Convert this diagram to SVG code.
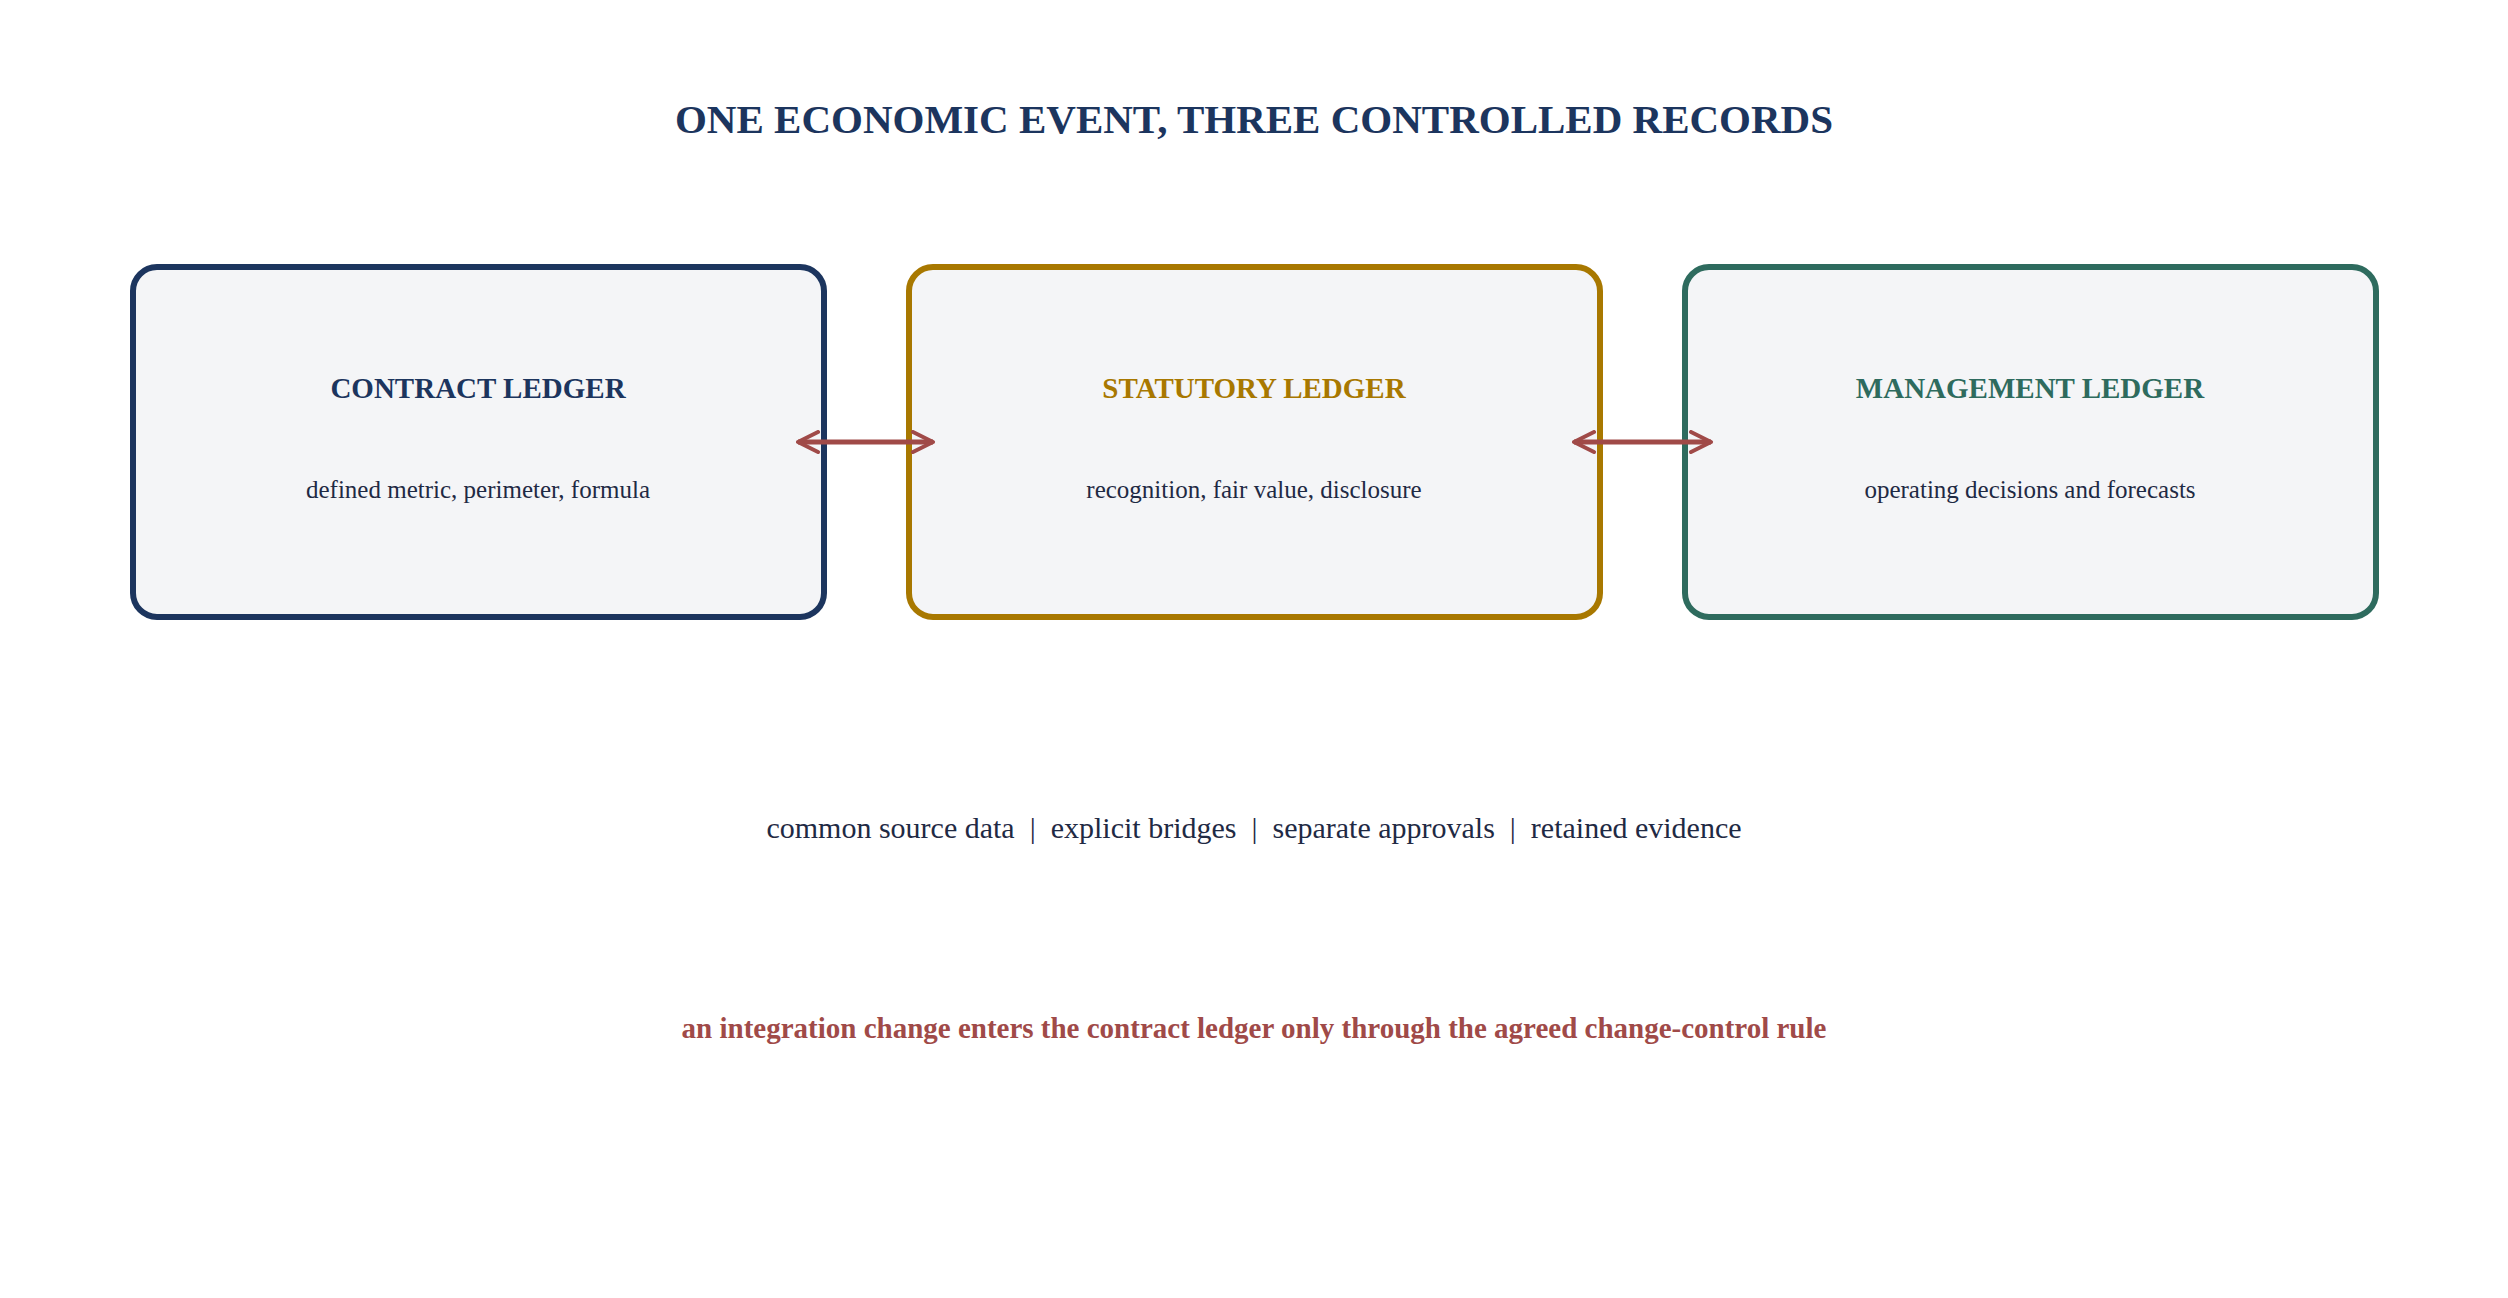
<svg xmlns="http://www.w3.org/2000/svg" width="2508" height="1298" viewBox="0 0 2508 1298">
<style>
text{font-family:"Liberation Serif","Times New Roman",serif;text-anchor:middle}
.box{fill:#f4f5f7;stroke-width:6}
.h{font-size:29px;font-weight:bold}
.s{font-size:25px;fill:#1f2a44}
.c{stroke:#a04a48;stroke-width:5;fill:none}
</style>
<defs>
<marker id="a" viewBox="0 0 10 10" refX="9" refY="5" markerWidth="5" markerHeight="5" orient="auto-start-reverse" markerUnits="strokeWidth">
<path d="M1,1 L9,5 L1,9" fill="none" stroke="#a04a48" stroke-width="1.6" stroke-linecap="round" stroke-linejoin="round"/>
</marker>
</defs>
<rect width="2508" height="1298" fill="#fff"/>
<text x="1254" y="133" font-size="41" font-weight="bold" fill="#1c355e">ONE ECONOMIC EVENT, THREE CONTROLLED RECORDS</text>
<g id="contract">
<rect class="box" x="133" y="267" width="691" height="350" rx="24" stroke="#1c355e"/>
<text class="h" x="478" y="398" fill="#1c355e">CONTRACT LEDGER</text>
<text class="s" x="478" y="498">defined metric, perimeter, formula</text>
</g>
<g id="statutory">
<rect class="box" x="909" y="267" width="691" height="350" rx="24" stroke="#a87800"/>
<text class="h" x="1254" y="398" fill="#a87800">STATUTORY LEDGER</text>
<text class="s" x="1254" y="498">recognition, fair value, disclosure</text>
</g>
<g id="management">
<rect class="box" x="1685" y="267" width="691" height="350" rx="24" stroke="#2e6b5e"/>
<text class="h" x="2030" y="398" fill="#2e6b5e">MANAGEMENT LEDGER</text>
<text class="s" x="2030" y="498">operating decisions and forecasts</text>
</g>
<g id="connectors">
<line class="c" x1="798" y1="442" x2="933" y2="442" marker-start="url(#a)" marker-end="url(#a)"/>
<line class="c" x1="1574" y1="442" x2="1711" y2="442" marker-start="url(#a)" marker-end="url(#a)"/>
</g>
<text x="1254" y="838" font-size="30" fill="#1f2a44" xml:space="preserve">common source data  |  explicit bridges  |  separate approvals  |  retained evidence</text>
<text x="1254" y="1038" font-size="29" font-weight="bold" fill="#a04a48">an integration change enters the contract ledger only through the agreed change-control rule</text>
</svg>
